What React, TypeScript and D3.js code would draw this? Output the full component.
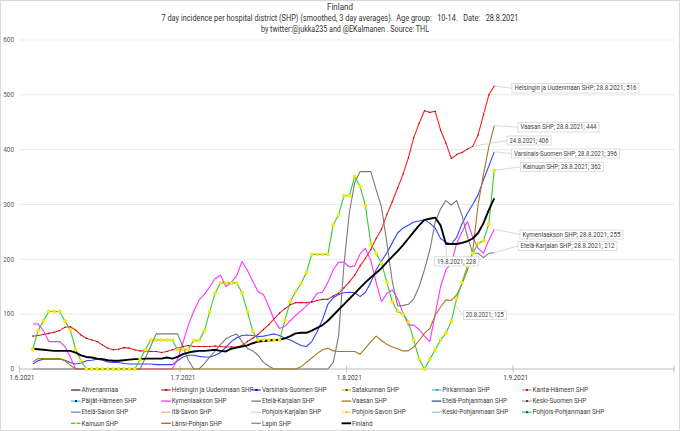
import React from 'react';
import * as d3 from 'd3';

// ---------- DATA ----------
const firstDay = new Date(2021, 5, 3); // 3.6.2021
const yTicks = [0, 100, 200, 300, 400, 500, 600];
const monthTicks = [new Date(2021, 5, 1), new Date(2021, 6, 1), new Date(2021, 7, 1), new Date(2021, 8, 1), new Date(2021, 9, 1)];
const monthLabels = ['1.6.2021', '1.7.2021', '1.8.2021', '1.9.2021'];

const titleLines = [
  'Finland',
  '7 day incidence per hospital district (SHP) (smoothed, 3 day averages).  Age group:   10-14.   Date:   28.8.2021',
  'by twitter:@jukka235 and @EKalmanen . Source: THL',
];

const helsinki = [
  60, 61, 63, 65, 67, 70, 76, 77, 71, 62,
  56, 53, 50, 44, 38, 35, 36, 39, 38, 35,
  33, 33, 32, 32, 30, 32, 35, 38, 41, 43,
  41, 41, 41, 41, 42, 41, 40, 40, 40, 43,
  50, 56, 63, 72, 81, 92, 102, 110, 117, 121,
  121, 121, 122, 125, 127, 127, 133, 138, 148, 159,
  171, 188, 202, 218, 238, 255, 282, 305, 330, 355,
  385, 422, 448, 471, 468, 470, 436, 412, 384, 391,
  395, 401, 406, 427, 464, 500, 516,
];
const varsinais = [
  9, 15, 18, 18, 18, 18, 16, 12, 9, 11,
  15, 16, 18, 16, 13, 12, 12, 10, 9, 9,
  9, 9, 9, 8, 8, 8, 8, 15, 22, 25,
  25, 23, 22, 22, 25, 30, 40, 50, 57, 61,
  62, 61, 59, 60, 62, 64, 61, 56, 53, 48,
  43, 41, 50, 68, 90, 118, 130, 136, 139, 140,
  139, 132, 140, 158, 181, 197, 212, 230, 248, 257,
  262, 268, 270, 272, 266, 257, 238, 231, 228, 240,
  265, 284, 300, 318, 345, 370, 396,
];
const kymenlaakso = [
  82, 82, 70, 50, 50, 50, 41, 22, 0, 0,
  0, 0, 0, 0, 0, 0, 0, 0, 0, 0,
  0, 0, 0, 0, 0, 0, 0, 18, 48, 80,
  105, 126, 136, 150, 165, 171, 150, 158, 170, 196,
  180, 160, 141, 136, 114, 89, 74, 78, 88, 98,
  106, 115, 124, 138, 140, 158, 181, 195, 195, 186,
  188, 210, 220, 198, 158, 123, 138, 144, 128, 102,
  80, 80, 72, 60, 50, 100, 150, 181, 193, 229,
  250, 269, 240, 220, 211, 235, 255,
];
const etelaKarjala = [
  0, 0, 0, 0, 0, 0, 0, 0, 0, 0,
  0, 0, 0, 0, 0, 0, 0, 0, 0, 0,
  0, 20, 42, 64, 64, 64, 64, 64, 40, 16,
  0, 0, 10, 22, 33, 45, 55, 60, 64, 50,
  38, 33, 25, 12, 5, 0, 0, 0, 0, 0,
  0, 0, 0, 0, 0, 0, 12, 60, 190, 285,
  340, 360, 360, 360, 327, 295, 230, 160, 115, 116,
  118, 128, 150, 181, 217, 268, 292, 307, 299, 307,
  280, 242, 211, 211, 203, 211, 212,
];
const vaasa = [
  13, 19, 19, 19, 19, 19, 15, 7, 0, 0,
  0, 0, 0, 0, 0, 0, 0, 0, 0, 0,
  0, 0, 0, 0, 0, 0, 0, 0, 0, 0,
  0, 0, 0, 0, 0, 0, 0, 0, 0, 0,
  0, 0, 0, 0, 0, 0, 0, 0, 0, 0,
  4, 12, 20, 28, 35, 38, 33, 32, 32, 32,
  32, 27, 38, 50, 60, 52, 45, 40, 37, 33,
  33, 40, 52, 65, 74, 98, 113, 126, 125, 135,
  155, 180, 215, 300, 355, 405, 444,
];
const kainuu = [
  36, 70, 88, 105, 105, 105, 88, 71, 36, 15,
  0, 0, 0, 0, 0, 0, 0, 0, 0, 0,
  17, 35, 53, 53, 53, 53, 53, 35, 36, 36,
  52, 52, 70, 105, 139, 157, 157, 157, 157, 139,
  105, 69, 53, 53, 53, 53, 53, 89, 123, 141,
  156, 176, 209, 209, 209, 209, 263, 281, 316, 316,
  351, 333, 298, 228, 211, 193, 158, 123, 105, 100,
  86, 53, 18, 0, 18, 35, 53, 65, 87, 128,
  158, 188, 211, 229, 234, 265, 362,
];
const finland = [
  37, 36, 35, 34, 33, 33, 33, 33, 30, 25,
  22, 21, 19, 18, 16, 15, 15, 16, 17, 18,
  18, 19, 19, 19, 19, 21, 19, 22, 27, 30,
  32, 33, 33, 34, 35, 33, 32, 37, 39, 41,
  43, 47, 50, 51, 52, 53, 53, 56, 60, 65,
  66, 66, 70, 75, 80, 88, 98, 108, 118, 128,
  138, 148, 158, 167, 175, 184, 195, 205, 215, 226,
  238, 250, 262, 272, 274, 276, 262, 228, 228, 228,
  230, 233, 238, 248, 266, 290, 311,
];

const legendNames = [
  'Ahvenanmaa', 'Helsingin ja Uudenmaan SHP', 'Varsinais-Suomen SHP', 'Satakunnan SHP', 'Pirkanmaan SHP', 'Kanta-Hämeen SHP',
  'Päijät-Hämeen SHP', 'Kymenlaakson SHP', 'Etelä-Karjalan SHP', 'Vaasan SHP', 'Etelä-Pohjanmaan SHP', 'Keski-Suomen SHP',
  'Etelä-Savon SHP', 'Itä-Savon SHP', 'Pohjois-Karjalan SHP', 'Pohjois-Savon SHP', 'Keski-Pohjanmaan SHP', 'Pohjois-Pohjanmaan SHP',
  'Kainuun SHP', 'Länsi-Pohjan SHP', 'Lapin SHP', 'Finland',
];
const legendColors = [
  '#3a3a3a', '#ff2020', '#3344ff', '#ffc000', '#33ccff', '#a6a6a6',
  '#33ccff', '#ff33ff', '#7a7a7a', '#a5791f', '#2f5597', '#9fb59a',
  '#5b8def', '#f4b183', '#d9d9d9', '#ffd966', '#9dc3e6', '#33dd33',
  '#33cc33', '#c55a11', '#8c8c8c', '#000000',
];
const legendMarkers = [
  '#e04040', '#404040', '#000080', '#404040', '#7f7f7f', '#ff0000',
  '#1f1f1f', null, null, null, null, '#404040',
  null, null, null, '#e6c200', null, '#404040',
  '#ffee00', null, null, null,
];

const plotted = [
  { name: 'Helsingin ja Uudenmaan SHP', values: helsinki },
  { name: 'Varsinais-Suomen SHP', values: varsinais },
  { name: 'Kymenlaakson SHP', values: kymenlaakso },
  { name: 'Etelä-Karjalan SHP', values: etelaKarjala },
  { name: 'Vaasan SHP', values: vaasa },
  { name: 'Kainuun SHP', values: kainuu },
  { name: 'Finland', values: finland },
];

// callouts: series, day index (from first day), with name?; box layout
const callouts = [
  { series: 'Helsingin ja Uudenmaan SHP', idx: 86, withName: true, bx: 512, by: 83.5, bw: 127, bh: 9.5 },
  { series: 'Vaasan SHP', idx: 86, withName: true, bx: 518, by: 122.5, bw: 81, bh: 9.5 },
  { series: 'Helsingin ja Uudenmaan SHP', idx: 82, withName: false, bx: 507, by: 136, bw: 44, bh: 9 },
  { series: 'Varsinais-Suomen SHP', idx: 86, withName: true, bx: 511.5, by: 149, bw: 108, bh: 9 },
  { series: 'Kainuun SHP', idx: 86, withName: true, bx: 520.5, by: 162.3, bw: 83, bh: 9 },
  { series: 'Kymenlaakson SHP', idx: 86, withName: true, bx: 520, by: 230, bw: 103, bh: 9 },
  { series: 'Etelä-Karjalan SHP', idx: 86, withName: true, bx: 518, by: 241.5, bw: 99, bh: 9 },
  { series: 'Finland', idx: 77, withName: false, bx: 434.5, by: 256.8, bw: 44, bh: 9.2, top: true },
  { series: 'Vaasan SHP', idx: 78, withName: false, bx: 463.3, by: 310.8, bw: 43, bh: 8.8 },
];

export default function App() {
  const W = 680;
  const H = 431;
  const x = d3.scaleTime()
    .domain([new Date(2021, 4, 31, 12), new Date(2021, 8, 30, 12)])
    .range([19.3, 674]);
  const y = d3.scaleLinear().domain([0, 600]).range([369, 40]);
  const halfDay = 12 * 3600 * 1000;
  const dateOf = (i: number) => d3.timeDay.offset(firstDay, i);
  const fmt = d3.timeFormat('%-d.%-m.%Y');
  const font = 'Roboto, "Open Sans", sans-serif';

  const line = d3.line<number>().x((_, i) => x(dateOf(i))).y((v) => y(v));
  const colorOf = (n: string) => legendColors[legendNames.indexOf(n)];

  return (
    <svg width={W} height={H} style={{ position: 'absolute', left: 0, top: 0, background: '#fff' }} fontFamily={font}>
      <rect x={0.5} y={0.5} width={W - 1} height={H - 1} fill="#fff" stroke="#d9d9d9" />
      {/* title */}
      <text x={340} y={10} textAnchor="middle" fontSize={8.4} fill="#333" textLength={26} lengthAdjust="spacingAndGlyphs">{titleLines[0]}</text>
      <text x={340} y={21} textAnchor="middle" fontSize={8.4} fill="#333" style={{ whiteSpace: 'pre' }} textLength={357} lengthAdjust="spacingAndGlyphs">{titleLines[1]}</text>
      <text x={345} y={32} textAnchor="middle" fontSize={8.4} fill="#333" textLength={168} lengthAdjust="spacingAndGlyphs">{titleLines[2]}</text>

      {/* grid */}
      {yTicks.map((t) => (
        <g key={t}>
          {t > 0 && <line x1={19.3} x2={674} y1={y(t)} y2={y(t)} stroke="#e3e3e3" strokeWidth={0.8} />}
          <text x={14} y={y(t)} dy="0.35em" textAnchor="end" fontSize={6.4} fill="#595959">{t}</text>
        </g>
      ))}

      {/* x axis */}
      <line x1={19.3} x2={674} y1={369} y2={369} stroke="#bfbfbf" strokeWidth={1} />
      {monthTicks.map((d, i) => (
        <line key={i} x1={x(new Date(+d - halfDay))} x2={x(new Date(+d - halfDay))} y1={365.5} y2={372.5} stroke="#bfbfbf" />
      ))}
      {monthLabels.map((l, i) => (
        <text key={l} x={x(monthTicks[i])} y={380} textAnchor="middle" fontSize={6.4} fill="#404040">{l}</text>
      ))}

      {/* series */}
      {plotted.map((s) => (
        <path key={s.name} d={line(s.values) || ''} fill="none" stroke={colorOf(s.name)}
          strokeWidth={s.name === 'Finland' ? 1.9 : 1.1} strokeLinejoin="round" />
      ))}
      {/* markers */}
      {helsinki.map((v, i) => (
        <rect key={'hm' + i} x={x(dateOf(i)) - 0.55} y={y(v) - 0.55} width={1.1} height={1.1} fill="#5a1010" />
      ))}
      {kainuu.map((v, i) => (
        <circle key={'km' + i} cx={x(dateOf(i))} cy={y(v)} r={1.7} fill="#ffee00" stroke="#e0c800" strokeWidth={0.3} />
      ))}

      {/* callouts */}
      {callouts.map((c, k) => {
        const vals = plotted.find((p) => p.name === c.series)!.values;
        const px = x(dateOf(c.idx));
        const py = y(vals[c.idx]);
        const txt = (c.withName ? c.series + '; ' : '') + fmt(dateOf(c.idx)) + '; ' + vals[c.idx];
        const ax = c.top ? c.bx + 12 : c.bx;
        const ay = c.top ? c.by : c.by + c.bh / 2;
        return (
          <g key={'c' + k}>
            <line x1={px} y1={py} x2={ax} y2={ay} stroke="#c8c8c8" strokeWidth={0.7} />
            <rect x={c.bx} y={c.by} width={c.bw} height={c.bh} fill="#fff" stroke="#d0d0d0" strokeWidth={0.7} />
            <text x={c.bx + c.bw / 2} y={c.by + c.bh / 2} dy="0.35em" textAnchor="middle" fontSize={6.3} fill="#404040"
              textLength={c.bw - 5} lengthAdjust="spacingAndGlyphs">{txt}</text>
          </g>
        );
      })}

      {/* legend */}
      {legendNames.map((n, i) => {
        const col = i % 6;
        const row = Math.floor(i / 6);
        const lx = 71 + col * 90.2;
        const ly = 390 + row * 11.1;
        const mk = legendMarkers[i];
        return (
          <g key={n}>
            <line x1={lx} x2={lx + 9.5} y1={ly} y2={ly} stroke={legendColors[i]} strokeWidth={n === 'Finland' ? 1.9 : 1.3} />
            {mk && <rect x={lx + 4} y={ly - 1} width={2} height={2} fill={mk} />}
            <text x={lx + 10.5} y={ly} dy="0.35em" fontSize={6.3} fill="#404040">{n}</text>
          </g>
        );
      })}
    </svg>
  );
}
